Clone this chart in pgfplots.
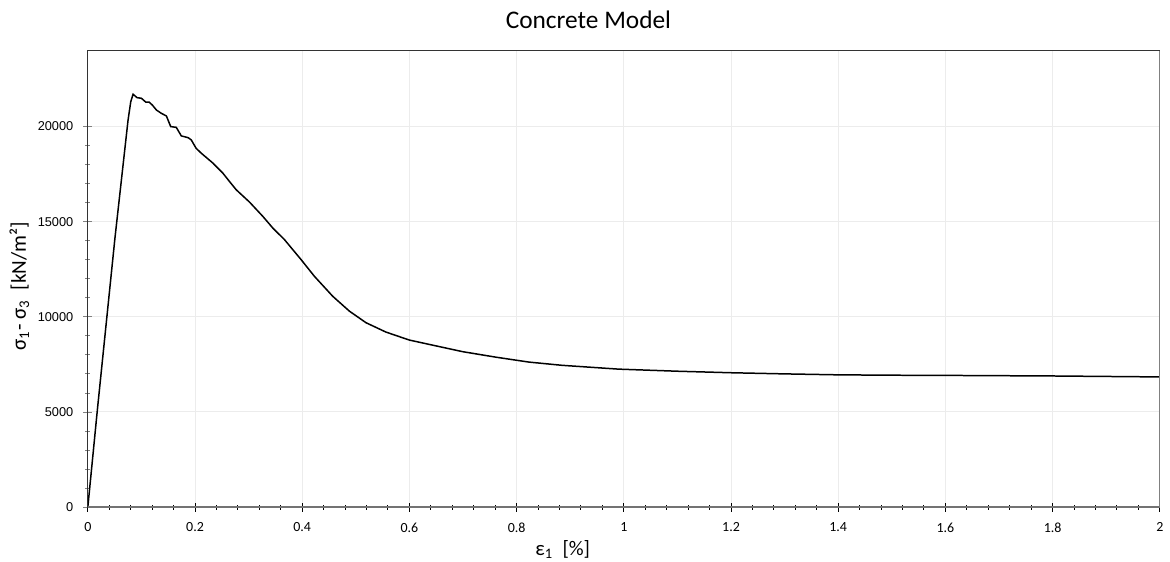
\documentclass[border=0pt]{standalone}
\usepackage{fontspec}
\setmainfont{Carlito}
\newfontfamily\yfont{Liberation Sans}
\usepackage{pgfplots}
\pgfplotsset{compat=1.18}
\begin{document}
\begin{tikzpicture}
\begin{axis}[
  scale only axis,
  width=537pt, height=228.7pt,
  xmin=0, xmax=2, ymin=0, ymax=24000,
  xtick={0,0.2,...,2}, ytick={0,5000,...,20000},
  minor x tick num=4, minor y tick num=4,
  xtick pos=lower, ytick pos=left,
  tick align=center,
  major tick length=4.5pt, minor tick length=2.5pt,
  xtick style={black, line width=0.5pt},
  ytick style={gray, line width=0.4pt},
  grid=major,
  major grid style={gray!15, line width=0.5pt},
  axis line style={draw=black!80, line width=0.5pt},
  /pgf/number format/assume math mode=true,
  scaled y ticks=false,
  yticklabel style={/pgf/number format/1000 sep={}, font=\yfont\fontsize{6.4}{7}\selectfont, xshift=-1.5pt},
  xticklabel style={font=\fontsize{7}{8}\selectfont, yshift=-2pt},
  every axis title/.style={font=\fontsize{12.7}{14}\selectfont, at={(axis description cs:0.467,1)}, anchor=base, inner sep=0pt, yshift=10.8pt},
  title={Concrete Model},
  xlabel={ε\textsubscript{1}~~[\%]},
  xlabel style={font=\fontsize{10.4}{12}\selectfont, at={(axis description cs:0.443,0)}, anchor=base, inner sep=0pt, yshift=-24.2pt},
  ylabel={σ\textsubscript{1}- σ\textsubscript{3}~~[kN/m²]},
  ylabel style={font=\fontsize{10.6}{12}\selectfont, at={(axis description cs:0,0.484)}, anchor=base, inner sep=0pt, yshift=31pt},
]
\addplot[black, line width=0.75pt] coordinates {
(0,0) (0.0174,5000) (0.0503,14060) (0.0751,20350) (0.0801,21310) (0.0844,21700)
(0.0919,21520) (0.0999,21490) (0.108,21290) (0.1142,21290) (0.1204,21130)
(0.128,20870) (0.137,20700) (0.1465,20560) (0.1496,20350) (0.1546,20000)
(0.165,19960) (0.1744,19510) (0.187,19420) (0.193,19300) (0.202,18860)
(0.2117,18600) (0.2334,18080) (0.252,17550) (0.2644,17110) (0.2768,16680)
(0.3017,16030) (0.3265,15280) (0.345,14670) (0.3575,14320) (0.3668,14060)
(0.3978,13010) (0.4227,12130) (0.4569,11080) (0.4879,10300) (0.519,9690)
(0.556,9200) (0.5996,8780) (0.6369,8550) (0.6989,8170) (0.761,7880)
(0.823,7620) (0.885,7450) (0.99,7250) (1.1,7140) (1.2,7060) (1.3,7000)
(1.4,6950) (1.5,6930) (1.6,6920) (1.7,6905) (1.8,6890) (1.9,6865) (2.0,6840)
};
\draw[gray!90!black, line width=1pt] (rel axis cs:0,0) -- (rel axis cs:1,0);
\draw[gray, line width=1pt] (rel axis cs:1,0) -- (rel axis cs:1,1);
\end{axis}
\path ([shift={(-44pt,-27.5pt)}]current axis.south west) rectangle ([shift={(4pt,25.3pt)}]current axis.north east);
\end{tikzpicture}
\end{document}
